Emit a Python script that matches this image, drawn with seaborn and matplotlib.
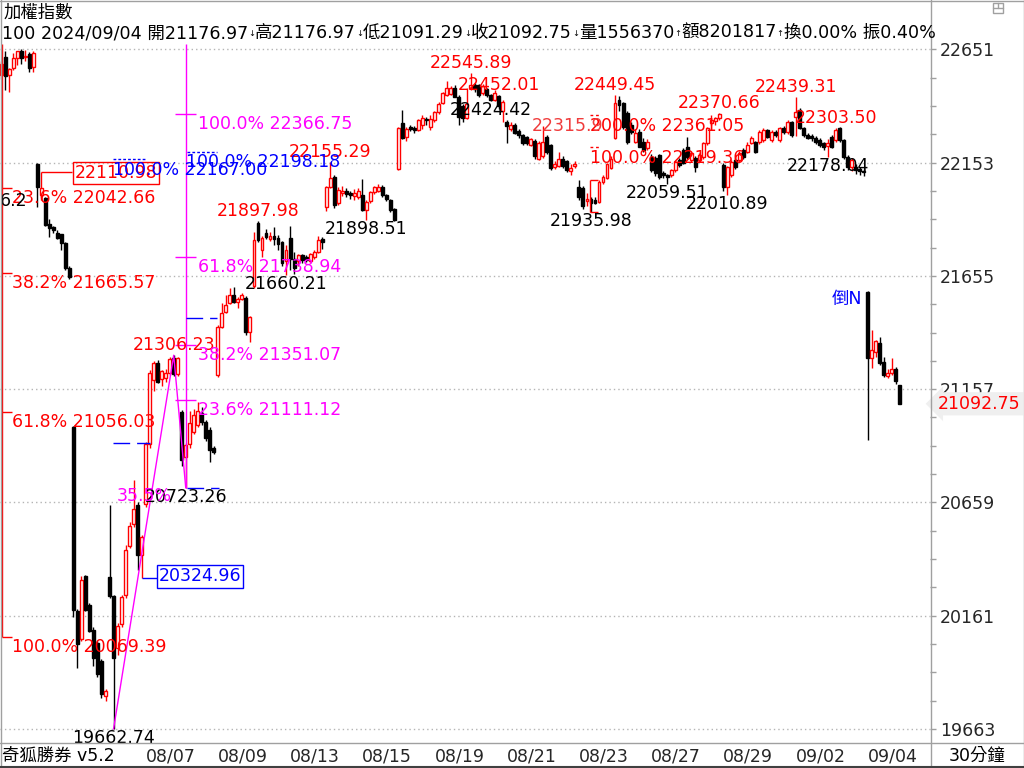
import matplotlib
matplotlib.use("Agg")
import matplotlib.pyplot as plt
import matplotlib.transforms as mtrans
from matplotlib.lines import Line2D
from matplotlib.patches import Rectangle
import seaborn as sns
import numpy as np
import pandas as pd

W, H = 1024, 768
RED = "#ff0000"
MAG = "#ff00ff"
BLUE = "#0000ff"
GRAY = "#a0a0a0"
FS = 12.5

# 30-minute bars of the TAIEX, 9 bars per trading day
days = ["08/01", "08/02", "08/05", "08/06", "08/07", "08/08", "08/09", "08/12", "08/13",
        "08/14", "08/15", "08/16", "08/19", "08/20", "08/21", "08/22", "08/23", "08/26",
        "08/27", "08/28", "08/29", "08/30", "09/02", "09/03", "09/04"]
date_labels = ["08/07", "08/09", "08/13", "08/15", "08/19", "08/21", "08/23", "08/27",
               "08/29", "09/02", "09/04"]

o = [22540, 22616, 22536, 22567, 22611, 22642, 22618, 22629, 22571,
     22148, 22010, 21998, 21885, 21870, 21845, 21840, 21800, 21690,
     20991, 20180, 20058, 20336, 20207, 20100, 20040, 19960, 19810,
     20330, 20247, 20021, 20124, 20252, 20467, 20565, 20646, 20430,
     20650, 20915, 21197, 21270, 21200, 21205, 21230, 21295, 21225,
     21058, 20860, 20915, 20970, 21000, 21052, 21014, 20977, 20898,
     21219, 21432, 21497, 21536, 21571, 21541, 21555, 21557, 21410,
     21610, 21888, 21769, 21845, 21815, 21830, 21820, 21805, 21720,
     21820, 21730, 21720, 21745, 21740, 21720, 21740, 21762, 21815,
     21959, 22047, 22090, 21975, 22020, 22030, 22020, 22005, 22000,
     22010, 21945, 21985, 22022, 22030, 22045, 22010, 21990, 21950,
     22125, 22329, 22265, 22310, 22305, 22295, 22320, 22345, 22310,
     22340, 22375, 22415, 22450, 22455, 22481, 22441, 22400, 22350,
     22480, 22495, 22495, 22460, 22475, 22450, 22430, 22445, 22380,
     22330, 22300, 22320, 22290, 22275, 22265, 22230, 22250, 22170,
     22180, 22265, 22230, 22135, 22140, 22170, 22160, 22115, 22140,
     22047, 22040, 21985, 21995, 21990, 21981, 22069, 22085, 22130,
     22261, 22428, 22415, 22371, 22318, 22244, 22289, 22245, 22217,
     22178, 22173, 22186, 22107, 22098, 22098, 22120, 22164, 22208,
     22223, 22164, 22173, 22164, 22179, 22239, 22327, 22335, 22349,
     22142, 22046, 22098, 22164, 22164, 22208, 22200, 22239, 22244,
     22244, 22252, 22296, 22252, 22287, 22252, 22305, 22287, 22331,
     22353, 22384, 22305, 22274, 22270, 22261, 22252, 22239, 22225,
     22265, 22252, 22305, 22252, 22178, 22134, 22134, 22125, 22118,
     21585, 21292, 21322, 21361, 21278, 21215, 21229, 21247, 21176.97]
h = [22600, 22642, 22567, 22633, 22645, 22651, 22650, 22640, 22645,
     22150, 22110.98, 22000, 21905, 21875, 21855, 21840, 21805, 21700,
     20995, 20190, 20336, 20340, 20215, 20110, 20050, 19970, 19840,
     20646, 20250, 20130, 20250, 20470, 20575, 20757, 20660, 20515,
     20925, 21240, 21280, 21285, 21240, 21245, 21300, 21306.23, 21300,
     21065, 20920, 21060, 21070, 21100, 21080, 21020, 20990, 20905,
     21440, 21536, 21571, 21600, 21607, 21560, 21580, 21565, 21480,
     21850, 21897.98, 21830, 21860, 21850, 21870, 21835, 21810, 21790,
     21875, 21760, 21750, 21750, 21745, 21755, 21770, 21830, 21827,
     22050, 22155.29, 22100, 22045, 22050, 22040, 22030, 22035, 22040,
     22080, 21990, 22030, 22050, 22060, 22055, 22015, 21995, 21955,
     22310, 22385, 22310, 22320, 22315, 22345, 22360, 22355, 22360,
     22380, 22420, 22465, 22510, 22490, 22495, 22450, 22410, 22480,
     22545.89, 22505, 22500, 22500, 22480, 22455, 22470, 22452.01, 22430,
     22340, 22330, 22325, 22300, 22280, 22270, 22260, 22255, 22250,
     22315.9, 22275, 22235, 22160, 22200, 22180, 22165, 22145, 22160,
     22075, 22050, 22020, 22000, 22000, 22075, 22100, 22150, 22180,
     22449.45, 22445, 22420, 22380, 22330, 22300, 22300, 22260, 22255,
     22190, 22180, 22190, 22115, 22105, 22125, 22160, 22175, 22215,
     22267, 22200, 22180, 22195, 22245, 22310, 22360, 22355, 22370.66,
     22150, 22140, 22165, 22175, 22205, 22215, 22245, 22270, 22250,
     22295, 22305, 22300, 22295, 22295, 22310, 22315, 22340, 22335,
     22439.31, 22395, 22310, 22285, 22280, 22270, 22260, 22245, 22255,
     22275, 22303.50, 22310, 22258, 22185, 22175, 22145, 22135, 22125,
     21590, 21417, 21375, 21385, 21300, 21245, 21295, 21255, 21176.97]
l = [22520, 22474, 22465, 22560, 22580, 22585, 22600, 22550, 22550,
     21958, 21990, 21875, 21826, 21845, 21815, 21770, 21680, 21640,
     20155, 19931, 20050, 20180, 20090, 19940, 19890, 19800, 19784,
     20240, 19662.74, 19990, 20110, 20240, 20460, 20550, 20360, 20324.96,
     20640, 20900, 21150, 21185, 21170, 21190, 21220, 21215, 21215,
     20820, 20723.26, 20900, 20960, 20990, 21000, 20930, 20838, 20870,
     21210, 21425, 21490, 21530, 21535, 21514, 21550, 21395, 21366,
     21600, 21805, 21740, 21815, 21810, 21790, 21770, 21698, 21660.21,
     21681, 21665, 21700, 21710, 21715, 21715, 21730, 21755, 21775,
     21940, 22040, 21955, 21965, 22005, 22000, 21995, 21990, 21995,
     21940, 21898.51, 21975, 22015, 22025, 22000, 21985, 21935, 21898,
     22120, 22255, 22250, 22290, 22285, 22290, 22300, 22320, 22295,
     22330, 22365, 22410, 22445, 22450, 22440, 22320, 22330, 22345,
     22470, 22465, 22440, 22450, 22440, 22424.42, 22425, 22390, 22330,
     22240, 22290, 22280, 22260, 22230, 22230, 22225, 22170, 22165,
     22175, 22190, 22120, 22125, 22135, 22130, 22110, 22100, 22130,
     21990, 21950, 21960, 21935.98, 21970, 21975, 22060, 22080, 22125,
     22255, 22380, 22300, 22235, 22280, 22240, 22220, 22200, 22210,
     22110, 22095, 22080, 22085, 22059.51, 22090, 22110, 22135, 22145,
     22170, 22155, 22113, 22155, 22170, 22230, 22318, 22320, 22340,
     22030, 22010.89, 22090, 22125, 22155, 22170, 22195, 22235, 22195,
     22235, 22245, 22260, 22245, 22265, 22245, 22280, 22280, 22265,
     22270, 22300, 22265, 22255, 22250, 22235, 22220, 22210, 22178.04,
     22215, 22245, 22245, 22170, 22120, 22115, 22105, 22100, 22095,
     20933, 21250, 21300, 21265, 21210, 21208, 21220, 21180, 21091.29]
c = [22585, 22532, 22563, 22611, 22642, 22611, 22622, 22567, 22633,
     22045, 22040, 21880, 21865, 21855, 21820, 21800, 21690, 21650,
     20185, 20036, 20317, 20185, 20096, 19976, 19905, 19815, 19830,
     20247, 19977, 20118, 20243, 20452, 20556, 20630, 20430, 20506,
     20915, 21230, 21270, 21190, 21235, 21230, 21290, 21225, 21295,
     20845, 20911, 21007, 21043, 21060, 21014, 20942, 20889, 20882,
     21432, 21491, 21527, 21571, 21541, 21555, 21570, 21410, 21476,
     21813, 21813, 21821, 21825, 21830, 21815, 21795, 21710, 21770,
     21730, 21690, 21745, 21725, 21725, 21750, 21760, 21813, 21805,
     22047, 22085, 21967, 22032, 22030, 22015, 22010, 22020, 22030,
     21945, 21980, 22022, 22045, 22045, 22010, 21995, 21945, 21901,
     22305, 22261, 22300, 22300, 22295, 22340, 22350, 22340, 22345,
     22375, 22410, 22460, 22480, 22480, 22443, 22353, 22350, 22410,
     22495, 22475, 22450, 22490, 22452, 22430, 22460, 22400, 22420,
     22315, 22320, 22285, 22275, 22240, 22240, 22255, 22180, 22240,
     22245, 22200, 22130, 22148, 22170, 22140, 22120, 22130, 22145,
     22003, 21960, 21995, 21975, 21975, 22069, 22090, 22145, 22170,
     22415, 22406, 22310, 22244, 22287, 22283, 22223, 22208, 22245,
     22120, 22107, 22090, 22098, 22090, 22120, 22155, 22142, 22151,
     22179, 22195, 22135, 22186, 22239, 22305, 22340, 22350, 22368,
     22046, 22135, 22155, 22133, 22195, 22178, 22230, 22261, 22200,
     22287, 22296, 22266, 22287, 22274, 22305, 22287, 22331, 22274,
     22375, 22305, 22274, 22261, 22261, 22244, 22230, 22221, 22240,
     22221, 22296, 22252, 22178, 22134, 22164, 22120, 22115, 22110,
     21292, 21329, 21370, 21273, 21219, 21230, 21246, 21194, 21092.75]

# swing labels: (bar index, value)
high_marks = [(43, 21306.23), (64, 21897.98), (82, 22155.29), (117, 22545.89),
              (124, 22452.01), (153, 22449.45), (179, 22370.66), (198, 22439.31),
              (208, 22303.50)]
low_marks = [(28, 19662.74), (46, 20723.26), (71, 21660.21), (91, 21898.51),
             (122, 22424.42), (147, 21935.98), (166, 22059.51), (181, 22010.89),
             (206, 22178.04)]
zigzag = [(28, 19662.74), (43, 21306.23), (46, 20723.26)]

fib_red = [("23.6%", 22042.66), ("38.2%", 21665.57), ("61.8%", 21056.03), ("100.0%", 20069.39)]
fib_mag = [("100.0%", 22366.75), ("61.8%", 21738.94), ("38.2%", 21351.07), ("23.6%", 21111.12)]
ext_red = [("200.0%", 22361.05), ("100.0%", 22219.36)]
blue_targets = [("100.0%", 22167.00), ("100.0%", 22198.18)]
box_red = (10, 22110.98)
box_blue = (35, 20324.96)

y_levels = [22651, 22153, 21655, 21157, 20659, 20161, 19663]

df = pd.DataFrame({"open": o, "high": h, "low": l, "close": c})
df["x"] = np.arange(len(df))


def px_to_i(px):
    return (px - 1.2) / 4.012


YBOT = 22651 - (742 - 49.3) * 4.396
YTOP = 22651 + 5.3 * 4.396

sns.set_theme(style="white")
plt.rcParams["font.family"] = ["DejaVu Sans", "Noto Sans CJK TC"]

fig = plt.figure(figsize=(W / 100, H / 100), dpi=100)
ax = fig.add_axes([0, (H - 742) / H, 930 / W, (742 - 44) / H])
for s in ax.spines.values():
    s.set_visible(False)

# grid
ax.hlines(y_levels, px_to_i(0), px_to_i(930), colors="#b4b4b4", linestyles=(0, (1, 2.2)), lw=1, zorder=1)

# candles
up = (df.close >= df.open).values
edge = np.where(up, RED, "black")
ax.vlines(df.x, df.low, df.high, colors=edge, lw=1, zorder=2)
ax.bar(df.x, (df.close - df.open).abs(), bottom=np.minimum(df.open, df.close), width=0.72,
       color=np.where(up, "white", "black"), edgecolor=edge, linewidth=1, zorder=2.5)

off = dict(textcoords="offset pixels", fontsize=FS, zorder=5, annotation_clip=False)

# high / low marks
for i, v in high_marks:
    ax.annotate(f"{v:.2f}", (i, v), xytext=(0, 10), ha="center", va="center", color=RED, **off)
for i, v in low_marks:
    ax.annotate(f"{v:.2f}", (i, v), xytext=(0, -9), ha="center", va="center", color="black", **off)

# red fibonacci on the left
ax.vlines(px_to_i(2), 20069.39, YTOP, colors=RED, lw=1, zorder=3)
for name, v in fib_red:
    ax.hlines(v, px_to_i(2), px_to_i(12), colors=RED, lw=1, zorder=3)
    ax.annotate(f"{name} {v:.2f}", (px_to_i(12), v), xytext=(0, -10), ha="left", va="center", color=RED, **off)

# magenta retracement on the 08/08 low
ax.vlines(46, 20723.26, YTOP, colors=MAG, lw=1, zorder=3)
for name, v in fib_mag:
    ax.hlines(v, px_to_i(175), px_to_i(196), colors=MAG, lw=1, zorder=3)
    ax.annotate(f"{name} {v:.2f}", (px_to_i(198), v), xytext=(0, -10), ha="left", va="center", color=MAG, **off)
zz = pd.DataFrame(zigzag, columns=["x", "y"])
sns.lineplot(data=zz, x="x", y="y", sort=False, color=MAG, lw=1, ax=ax, zorder=3)
ax.set_xlabel("")
ax.set_ylabel("")
ax.annotate("35.5%", (px_to_i(117), 20723.26), xytext=(0, -8), ha="left", va="center", color=MAG, **off)

# boxed prices (drawn under the blue target labels)
ax.hlines(box_red[1], box_red[0], px_to_i(72), colors=RED, lw=1, zorder=3)
ax.annotate(f"{box_red[1]:.2f}", (px_to_i(116), box_red[1]), xytext=(0, -1), ha="center", va="center", color=RED,
            bbox=dict(boxstyle="square,pad=0.12", fc="none", ec=RED, lw=1), **off)
ax.hlines(box_blue[1], box_blue[0], px_to_i(157), colors=BLUE, lw=1, zorder=3)
ax.annotate(f"{box_blue[1]:.2f}", (px_to_i(200), box_blue[1]), xytext=(0, 2), ha="center", va="center", color=BLUE,
            bbox=dict(boxstyle="square,pad=0.12", fc="white", ec=BLUE, lw=1), **off)

# blue targets
ax.hlines(blue_targets[0][1], px_to_i(113), px_to_i(145), colors=BLUE, linestyles=(0, (2, 1.5)), lw=1, zorder=3)
ax.hlines(blue_targets[1][1], px_to_i(187), px_to_i(217), colors=BLUE, linestyles=(0, (2, 1.5)), lw=1, zorder=3)
ax.annotate(f"{blue_targets[0][0]} {blue_targets[0][1]:.2f}", (px_to_i(113), blue_targets[0][1]),
            xytext=(0, -11), ha="left", va="center", color=BLUE, **off)
ax.annotate(f"{blue_targets[1][0]} {blue_targets[1][1]:.2f}", (px_to_i(186), blue_targets[1][1]),
            xytext=(0, -10), ha="left", va="center", color=BLUE, **off)
ax.hlines(20920, px_to_i(113), px_to_i(150), colors=BLUE, linestyles=(0, (12, 5)), lw=1, zorder=3)
ax.hlines(21470, px_to_i(186), px_to_i(217), colors=BLUE, linestyles=(0, (12, 5)), lw=1, zorder=3)
ax.hlines(20723.26, px_to_i(187), px_to_i(219), colors=BLUE, linestyles=(0, (12, 5)), lw=1, zorder=3)

# red extension on the 08/23 low
ax.vlines(px_to_i(590), 21935.98, 22077.67, colors=RED, lw=1, zorder=3)
ax.hlines([21935.98, 22077.67], px_to_i(590), px_to_i(598), colors=RED, lw=1, zorder=3)
for name, v in ext_red:
    ax.hlines(v, px_to_i(590), px_to_i(600), colors=RED, linestyles=(0, (2, 2)), lw=1, zorder=3)
    ax.annotate(f"{name} {v:.2f}", (px_to_i(590), v), xytext=(0, -11), ha="left", va="center", color=RED, **off)
ax.annotate("22315.9", (px_to_i(532), 22315.9), xytext=(0, 0), ha="left", va="center", color="#f03c3c", **off)

ax.annotate("倒N", (px_to_i(862), 21553), xytext=(0, 0), ha="right", va="center", color=BLUE, **off)
ax.annotate("6.2", (px_to_i(0), 21985), xytext=(0, 0), ha="left", va="center", color="black", **off)

# right price axis
ax.yaxis.tick_right()
ax.set_yticks(y_levels)
ax.set_yticklabels([str(v) for v in y_levels])
ax.set_yticks(np.arange(19663, 22700, 124.5), minor=True)
ax.tick_params(axis="y", which="major", length=4, width=1, color=GRAY, pad=3, labelsize=FS, direction="out")
ax.tick_params(axis="y", which="minor", length=4, width=1, color=GRAY, direction="out")

# date axis
day_idx = [days.index(d) * 9 for d in date_labels]
ax.set_xticks(day_idx)
ax.set_xticklabels(date_labels, ha="left", fontsize=FS)
ax.tick_params(axis="x", length=0, pad=4)

# limits last, after ticks
ax.set_xlim(px_to_i(0), px_to_i(930))
ax.set_ylim(YBOT, YTOP)

# last price tag
blend = mtrans.blended_transform_factory(ax.transAxes, ax.transData)
ax.text(1.0 + 8 / 930, c[-1], f"{c[-1]:.2f}", transform=blend, ha="left", va="center", color=RED, fontsize=FS,
        clip_on=False, zorder=6, bbox=dict(boxstyle="larrow,pad=0.15", fc="#efefef", ec="none"))

# header
fig.text(4 / W, 1 - 13 / H, "加權指數", ha="left", va="center", fontsize=FS, color="black")
pieces = [(f"100 2024/09/04 開{o[-1]:.2f}", False), ("↓", True), (f"高{h[-1]:.2f}", False), ("↓", True),
          (f"低{l[-1]:.2f}", False), ("↓", True), (f"收{c[-1]:.2f}", False), ("↓", True),
          ("量1556370", False), ("↑", True), ("額8201817", False), ("↑", True),
          ("換0.00% 振0.40%", False)]
renderer = fig.canvas.get_renderer()
xp = 2
for s, small in pieces:
    t = fig.text(xp / W, 1 - 33 / H, s, ha="left", va="center", fontsize=6 if small else 12.6, color="black")
    xp += t.get_window_extent(renderer).width

# footer
fig.text(2 / W, 1 - 756 / H, "奇狐勝券 v5.2", ha="left", va="center", fontsize=FS, color="black")
fig.text(977 / W, 1 - 756 / H, "30分鐘", ha="center", va="center", fontsize=FS, color="black")


def fline(x0, y0, x1, y1, color=GRAY, lw=1):
    fig.add_artist(Line2D([x0 / W, x1 / W], [1 - y0 / H, 1 - y1 / H], color=color, lw=lw,
                          transform=fig.transFigure))


fline(930.5, 0, 930.5, 768)
fline(0, 742.5, 1024, 742.5)
fline(0.5, 0, 0.5, 768)
fline(0, 0.5, 1024, 0.5)
fline(1023.5, 0, 1023.5, 768)
fline(0, 767, 1024, 767, color="#404040", lw=1.5)
# small window icon top right
fig.add_artist(Rectangle((993 / W, 1 - 13 / H), 10 / W, 10 / H, transform=fig.transFigure,
                         fill=False, ec=GRAY, lw=1))
fline(993, 8, 1003, 8)
fline(998, 3, 998, 8)

fig.savefig("out.png", dpi=100)
